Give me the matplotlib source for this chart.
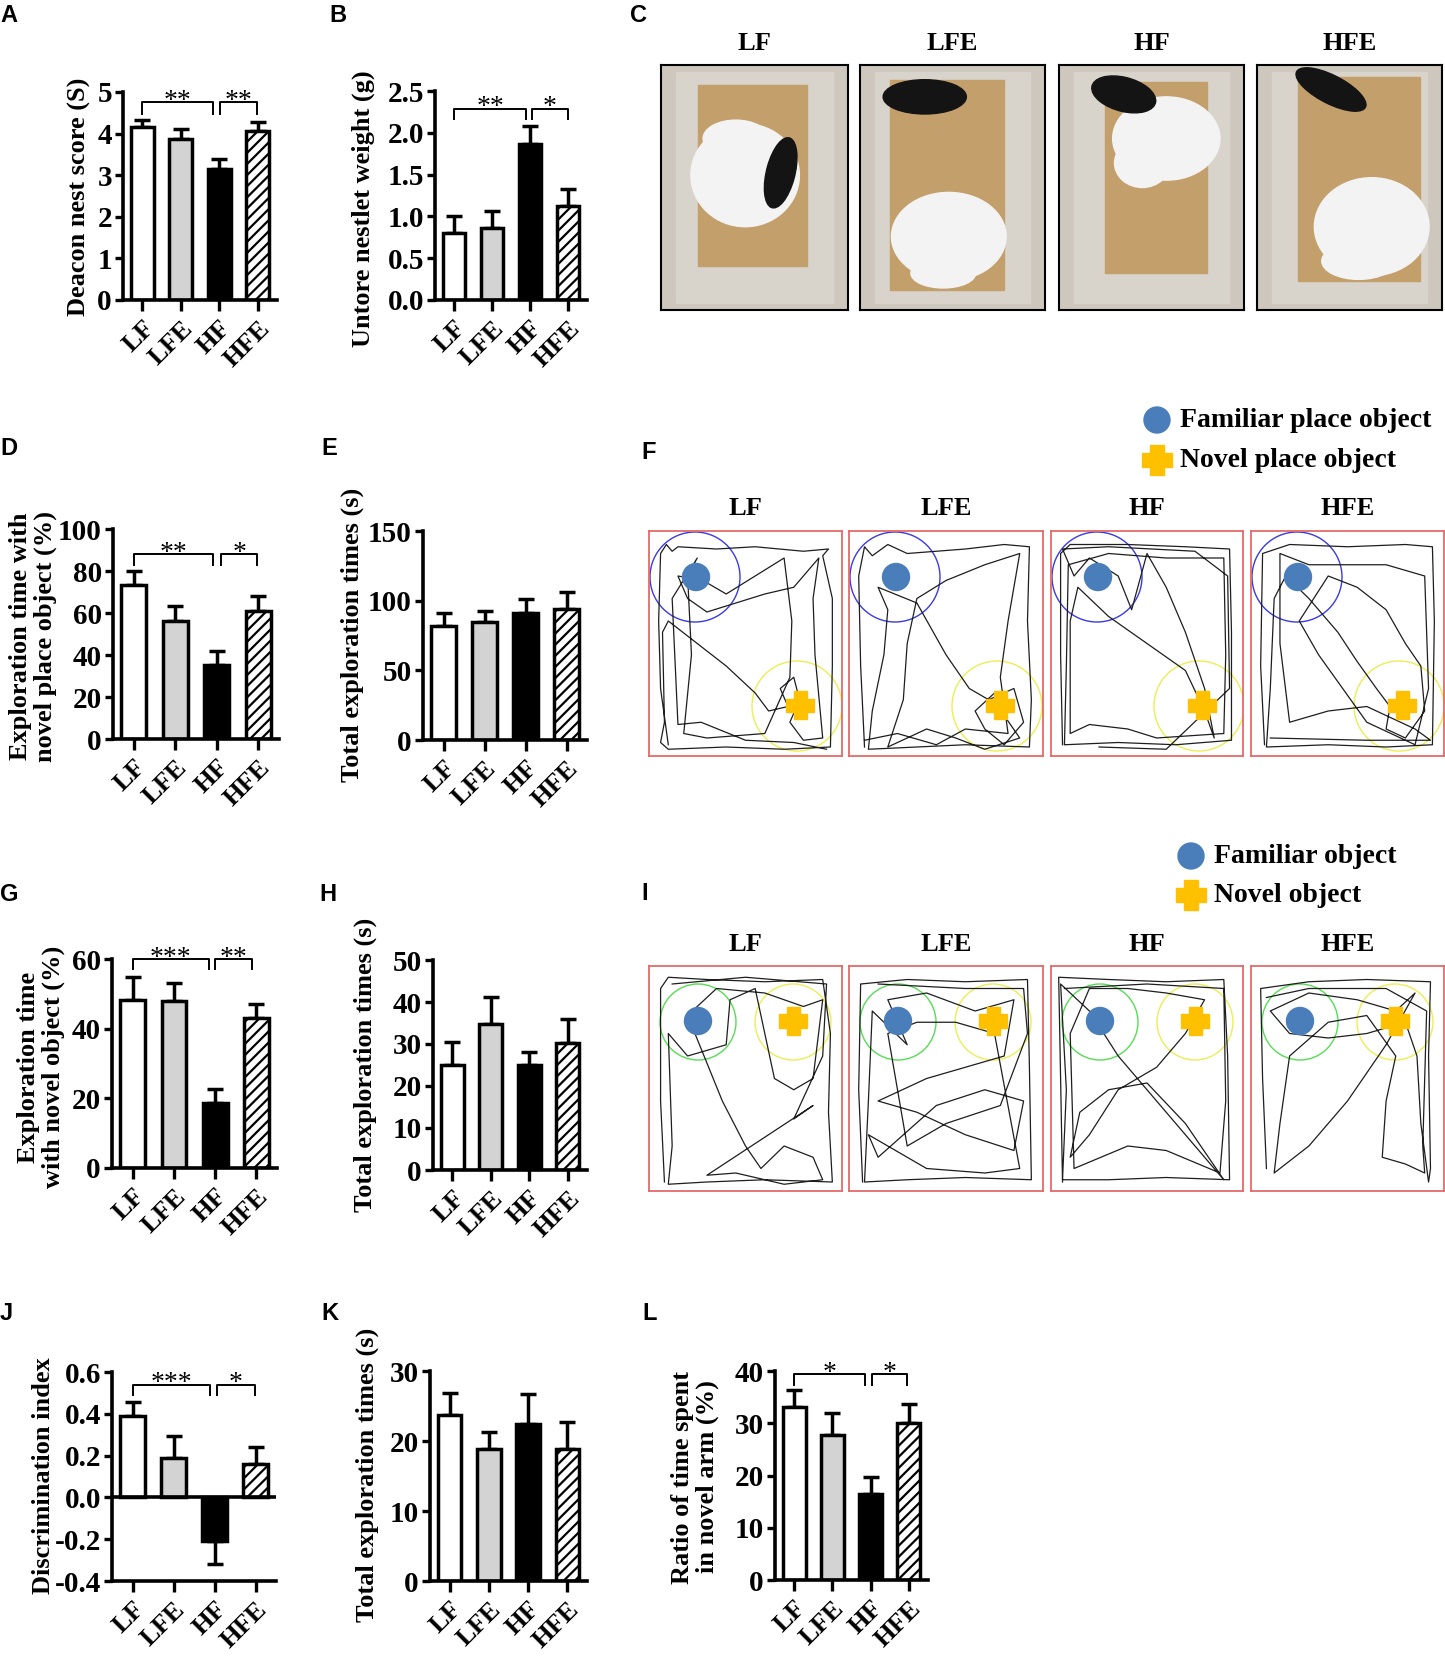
import matplotlib
matplotlib.use('Agg')
import matplotlib.pyplot as plt
from matplotlib.patches import Rectangle, Circle, Ellipse, Polygon
import numpy as np

W, H = 1445, 1660
fig = plt.figure(figsize=(W / 100, H / 100), dpi=100)
plt.rcParams['hatch.linewidth'] = 1.6
SERIF = 'Liberation Serif'
SANS = 'Liberation Sans'

# ------------------------------------------------------------------ data
groups = ['LF', 'LFE', 'HF', 'HFE']

nest_score = [4.15, 3.87, 3.15, 4.07]
nest_score_err = [0.17, 0.23, 0.25, 0.22]
untorn_weight = [0.80, 0.86, 1.87, 1.13]
untorn_weight_err = [0.20, 0.21, 0.21, 0.20]
opl_percent = [73.2, 56.2, 35.2, 61.0]
opl_percent_err = [7.0, 7.0, 6.5, 7.0]
opl_total = [82.0, 84.4, 91.0, 93.8]
opl_total_err = [9.4, 8.2, 10.0, 12.2]
nor_percent = [48.2, 48.0, 18.7, 43.0]
nor_percent_err = [6.5, 5.1, 4.0, 4.1]
nor_total = [25.1, 34.8, 25.0, 30.2]
nor_total_err = [5.3, 6.5, 3.2, 5.7]
disc_index = [0.39, 0.19, -0.21, 0.16]
disc_index_err = [0.067, 0.105, 0.11, 0.08]
disc_total = [23.7, 18.9, 22.5, 18.9]
disc_total_err = [3.2, 2.4, 4.2, 3.8]
ymaze_ratio = [33.1, 27.7, 16.4, 30.1]
ymaze_ratio_err = [3.2, 4.3, 3.3, 3.5]

ticks_A = [0, 1, 2, 3, 4, 5]
ticklabels_A = ['0', '1', '2', '3', '4', '5']
ticks_B = [0, 0.5, 1.0, 1.5, 2.0, 2.5]
ticklabels_B = ['0.0', '0.5', '1.0', '1.5', '2.0', '2.5']
ticks_D = [0, 20, 40, 60, 80, 100]
ticks_E = [0, 50, 100, 150]
ticks_G = [0, 20, 40, 60]
ticks_H = [0, 10, 20, 30, 40, 50]
ticks_J = [-0.4, -0.2, 0.0, 0.2, 0.4, 0.6]
ticklabels_J = ['-0.4', '-0.2', '0.0', '0.2', '0.4', '0.6']
ticks_K = [0, 10, 20, 30]
ticks_L = [0, 10, 20, 30, 40]

# significance brackets: (x_start, x_end, y_line, y_tip, label)
sig_A = [(0, 1.85, 4.76, 4.48, '**'), (2.02, 2.98, 4.76, 4.48, '**')]
sig_B = [(0, 1.9, 2.29, 2.16, '**'), (2.05, 3.0, 2.29, 2.16, '*')]
sig_D = [(0, 1.9, 88.0, 83.0, '**'), (2.1, 2.98, 88.0, 83.0, '*')]
sig_G = [(0, 1.85, 60.0, 57.0, '***'), (2.0, 2.9, 60.0, 57.0, '**')]
sig_J = [(0, 1.88, 0.54, 0.49, '***'), (2.06, 2.98, 0.54, 0.49, '*')]
sig_L = [(0, 1.86, 39.4, 37.3, '*'), (2.03, 2.96, 39.4, 37.3, '*')]

# arena tracks (fractions of arena width / height, from top-left)
track_F_LF = [(0.10, 0.95), (0.06, 0.70), (0.05, 0.40), (0.06, 0.10), (0.09, 0.06), (0.12, 0.09), (0.15, 0.07),
              (0.35, 0.08), (0.55, 0.07), (0.80, 0.09), (0.93, 0.08), (0.90, 0.11), (0.95, 0.30), (0.95, 0.60),
              (0.94, 0.96), (0.70, 0.97), (0.40, 0.96), (0.10, 0.97), (0.06, 0.94), (0.08, 0.85), (0.07, 0.45),
              (0.10, 0.40), (0.25, 0.50), (0.40, 0.60), (0.55, 0.72), (0.62, 0.80), (0.72, 0.78), (0.68, 0.70),
              (0.75, 0.65), (0.78, 0.75), (0.73, 0.85), (0.80, 0.93), (0.90, 0.92), (0.86, 0.55), (0.85, 0.30),
              (0.88, 0.12), (0.75, 0.25), (0.60, 0.28), (0.45, 0.32), (0.30, 0.36), (0.20, 0.30), (0.15, 0.20),
              (0.28, 0.22), (0.40, 0.28), (0.55, 0.20), (0.70, 0.12), (0.74, 0.40), (0.73, 0.65), (0.60, 0.90),
              (0.30, 0.92), (0.18, 0.90), (0.22, 0.55), (0.20, 0.20), (0.25, 0.12), (0.12, 0.30), (0.15, 0.86),
              (0.27, 0.85), (0.50, 0.93), (0.75, 0.94), (0.92, 0.97)]
track_F_LFE = [(0.08, 0.96), (0.06, 0.60), (0.05, 0.20), (0.08, 0.07), (0.12, 0.11), (0.20, 0.06), (0.30, 0.10),
               (0.45, 0.09), (0.60, 0.08), (0.80, 0.06), (0.93, 0.07), (0.92, 0.40), (0.94, 0.75), (0.93, 0.96),
               (0.60, 0.95), (0.35, 0.96), (0.10, 0.97), (0.12, 0.80), (0.18, 0.55), (0.20, 0.35), (0.15, 0.25),
               (0.35, 0.32), (0.50, 0.55), (0.62, 0.70), (0.72, 0.75), (0.85, 0.70), (0.90, 0.85), (0.80, 0.95),
               (0.70, 0.88), (0.65, 0.80), (0.75, 0.72), (0.80, 0.82), (0.88, 0.92), (0.70, 0.97), (0.55, 0.92),
               (0.40, 0.88), (0.30, 0.92), (0.20, 0.96), (0.28, 0.75), (0.30, 0.50), (0.35, 0.30), (0.50, 0.22),
               (0.70, 0.15), (0.88, 0.10), (0.82, 0.40), (0.78, 0.65), (0.82, 0.90), (0.60, 0.88), (0.45, 0.95),
               (0.25, 0.90), (0.08, 0.93)]
track_F_HF = [(0.06, 0.95), (0.05, 0.55), (0.05, 0.10), (0.10, 0.06), (0.40, 0.06), (0.70, 0.07), (0.93, 0.08),
              (0.94, 0.45), (0.94, 0.93), (0.65, 0.95), (0.35, 0.94), (0.07, 0.95), (0.08, 0.60), (0.09, 0.15),
              (0.30, 0.10), (0.60, 0.12), (0.90, 0.12), (0.91, 0.55), (0.90, 0.90), (0.55, 0.92), (0.40, 0.88),
              (0.20, 0.86), (0.10, 0.90), (0.10, 0.40), (0.14, 0.25), (0.30, 0.38), (0.50, 0.50), (0.70, 0.62),
              (0.80, 0.80), (0.85, 0.92), (0.80, 0.70), (0.70, 0.45), (0.60, 0.25), (0.50, 0.10), (0.42, 0.35),
              (0.35, 0.20), (0.20, 0.12), (0.12, 0.20), (0.06, 0.08), (0.30, 0.07), (0.75, 0.09), (0.92, 0.20),
              (0.93, 0.70), (0.60, 0.97), (0.25, 0.96)]
track_F_HFE = [(0.07, 0.95), (0.05, 0.60), (0.06, 0.10), (0.20, 0.06), (0.50, 0.07), (0.80, 0.06), (0.94, 0.07),
               (0.95, 0.40), (0.94, 0.95), (0.70, 0.96), (0.40, 0.95), (0.08, 0.96), (0.10, 0.70), (0.12, 0.30),
               (0.18, 0.20), (0.30, 0.30), (0.45, 0.45), (0.55, 0.58), (0.65, 0.70), (0.72, 0.78), (0.70, 0.88),
               (0.80, 0.92), (0.90, 0.80), (0.88, 0.60), (0.80, 0.50), (0.70, 0.35), (0.55, 0.25), (0.40, 0.20),
               (0.25, 0.40), (0.35, 0.55), (0.60, 0.85), (0.85, 0.95), (0.92, 0.70), (0.90, 0.20), (0.70, 0.15),
               (0.30, 0.15), (0.15, 0.10), (0.15, 0.50), (0.20, 0.85), (0.40, 0.80), (0.60, 0.78), (0.85, 0.88),
               (0.93, 0.93), (0.60, 0.93), (0.10, 0.92)]
track_I_LF = [(0.08, 0.96), (0.06, 0.60), (0.06, 0.10), (0.10, 0.05), (0.30, 0.06), (0.60, 0.07), (0.90, 0.06),
              (0.94, 0.30), (0.93, 0.65), (0.95, 0.96), (0.60, 0.95), (0.30, 0.96), (0.10, 0.97), (0.12, 0.80),
              (0.10, 0.30), (0.20, 0.40), (0.40, 0.35), (0.42, 0.15), (0.55, 0.10), (0.60, 0.30), (0.65, 0.50),
              (0.75, 0.55), (0.85, 0.50), (0.90, 0.15), (0.80, 0.18), (0.60, 0.12), (0.35, 0.10), (0.20, 0.22),
              (0.38, 0.60), (0.50, 0.80), (0.58, 0.90), (0.70, 0.80), (0.85, 0.85), (0.90, 0.95), (0.70, 0.97),
              (0.45, 0.92), (0.30, 0.93), (0.85, 0.62), (0.75, 0.68), (0.90, 0.40), (0.92, 0.08), (0.50, 0.05),
              (0.12, 0.08)]
track_I_LFE = [(0.07, 0.96), (0.05, 0.55), (0.06, 0.08), (0.30, 0.06), (0.60, 0.07), (0.92, 0.06), (0.93, 0.45),
               (0.94, 0.95), (0.60, 0.94), (0.30, 0.95), (0.08, 0.96), (0.10, 0.60), (0.12, 0.20), (0.30, 0.35),
               (0.20, 0.15), (0.40, 0.12), (0.65, 0.20), (0.85, 0.15), (0.80, 0.40), (0.60, 0.45), (0.40, 0.50),
               (0.15, 0.60), (0.35, 0.65), (0.60, 0.75), (0.85, 0.82), (0.90, 0.60), (0.70, 0.55), (0.45, 0.62),
               (0.15, 0.85), (0.10, 0.75), (0.40, 0.90), (0.70, 0.92), (0.88, 0.90), (0.75, 0.30), (0.55, 0.25),
               (0.35, 0.25), (0.20, 0.30), (0.30, 0.80), (0.50, 0.70), (0.78, 0.62), (0.92, 0.30), (0.90, 0.10),
               (0.60, 0.10), (0.15, 0.08)]
track_I_HF = [(0.06, 0.96), (0.05, 0.50), (0.04, 0.05), (0.30, 0.06), (0.60, 0.07), (0.90, 0.06), (0.92, 0.40),
              (0.93, 0.95), (0.60, 0.94), (0.30, 0.95), (0.06, 0.95), (0.08, 0.55), (0.05, 0.08), (0.20, 0.20),
              (0.35, 0.40), (0.45, 0.50), (0.55, 0.60), (0.75, 0.80), (0.90, 0.95), (0.70, 0.70), (0.50, 0.52),
              (0.30, 0.55), (0.15, 0.65), (0.10, 0.85), (0.20, 0.75), (0.35, 0.55), (0.55, 0.45), (0.70, 0.30),
              (0.80, 0.15), (0.60, 0.12), (0.40, 0.10), (0.20, 0.10), (0.10, 0.30), (0.12, 0.90), (0.40, 0.80),
              (0.60, 0.82), (0.88, 0.92), (0.91, 0.60), (0.90, 0.10), (0.50, 0.08), (0.07, 0.10)]
track_I_HFE = [(0.08, 0.90), (0.06, 0.50), (0.05, 0.10), (0.30, 0.07), (0.60, 0.06), (0.93, 0.07), (0.92, 0.40),
               (0.93, 0.90), (0.92, 0.96), (0.88, 0.70), (0.86, 0.40), (0.80, 0.25), (0.60, 0.30), (0.40, 0.32),
               (0.20, 0.30), (0.10, 0.20), (0.30, 0.12), (0.55, 0.15), (0.75, 0.20), (0.85, 0.12), (0.70, 0.35),
               (0.50, 0.60), (0.30, 0.80), (0.12, 0.92), (0.15, 0.70), (0.20, 0.40), (0.40, 0.25), (0.60, 0.22),
               (0.75, 0.40), (0.70, 0.60), (0.68, 0.85), (0.80, 0.88), (0.90, 0.92), (0.89, 0.80), (0.91, 0.20),
               (0.70, 0.10), (0.30, 0.10), (0.08, 0.14)]
tracks_F = [track_F_LF, track_F_LFE, track_F_HF, track_F_HFE]
tracks_I = [track_I_LF, track_I_LFE, track_I_HF, track_I_HFE]

# ------------------------------------------------------------------ helpers
bar_colors = ['white', '#d3d3d3', 'black', 'white']
bar_hatches = ['', '', '', '///']


def px_axes(x0, y0, x1, y1, **kw):
    return fig.add_axes([x0 / W, 1 - y1 / H, (x1 - x0) / W, (y1 - y0) / H], **kw)


ov = fig.add_axes([0, 0, 1, 1], zorder=10)
ov.set_xlim(0, W)
ov.set_ylim(H, 0)
ov.axis('off')
ov.patch.set_alpha(0)


def letter(ch, x, y):
    ov.text(x, y, ch, fontsize=17, fontweight='bold', family=SANS, ha='left', va='center')


def vlabel(text, x, y):
    ov.text(x, y, text, fontsize=19, fontweight='bold', family=SERIF, rotation=90,
            ha='center', va='center', linespacing=1.05)


def bar_panel(box, vals, errs, ticks, ticklabels=None, sigs=(), zero_line=False):
    ax = px_axes(*box)
    x = np.arange(len(groups))
    lower = [e if v < 0 else 0 for v, e in zip(vals, errs)]
    upper = [0 if v < 0 else e for v, e in zip(vals, errs)]
    ax.errorbar(x, vals, yerr=[lower, upper], fmt='none', ecolor='black', elinewidth=2.5,
                capsize=5.5, capthick=2.5, zorder=1)
    bars = ax.bar(x, vals, width=0.6, color=bar_colors, edgecolor='black', linewidth=2.5, zorder=2)
    for b, h in zip(bars, bar_hatches):
        b.set_hatch(h)
    ax.set_xlim(-0.5, 3.5)
    ax.set_ylim(ticks[0], ticks[-1])
    ax.set_yticks(ticks)
    if ticklabels is None:
        ticklabels = [str(t) for t in ticks]
    ax.set_yticklabels(ticklabels, fontsize=21, fontweight='bold', family=SERIF)
    ax.set_xticks(x)
    ax.set_xticklabels(groups, fontsize=19, fontweight='bold', family=SERIF, rotation=45,
                       ha='right', rotation_mode='anchor')
    for s in ['top', 'right']:
        ax.spines[s].set_visible(False)
    for s in ['left', 'bottom']:
        ax.spines[s].set_linewidth(2.6)
    ax.tick_params(axis='y', length=6, width=2.4, pad=2)
    ax.tick_params(axis='x', length=8, width=2.4, pad=4)
    ax.patch.set_alpha(0)
    if zero_line:
        ax.axhline(0, color='black', lw=2.6, zorder=3)
    for (xa, xb, yl, yt, lab) in sigs:
        ax.plot([xa, xa, xb, xb], [yt, yl, yl, yt], color='black', lw=1.4, clip_on=False, zorder=4)
        ax.annotate(lab, ((xa + xb) / 2, yl), xytext=(0, -4), textcoords='offset points',
                    ha='center', va='baseline', fontsize=20, family=SERIF, annotation_clip=False)
    return ax


def cross_pts(cx, cy, half, arm):
    return [(cx - arm, cy - half), (cx + arm, cy - half), (cx + arm, cy - arm), (cx + half, cy - arm),
            (cx + half, cy + arm), (cx + arm, cy + arm), (cx + arm, cy + half), (cx - arm, cy + half),
            (cx - arm, cy + arm), (cx - half, cy + arm), (cx - half, cy - arm), (cx - arm, cy - arm)]


def arena(box, track, dot, cross, rings):
    x0, y0, x1, y1 = box
    ax = px_axes(x0, y0, x1, y1)
    bw, bh = x1 - x0, y1 - y0
    ax.set_xlim(0, bw)
    ax.set_ylim(bh, 0)
    ax.set_xticks([])
    ax.set_yticks([])
    for s in ax.spines.values():
        s.set_color('#e46a6a')
        s.set_linewidth(1.3)
    ax.plot([p[0] * bw for p in track], [p[1] * bh for p in track], color='#1e1e1e', lw=0.9, zorder=2)
    for (cx, cy, r, col) in rings:
        ax.add_patch(Circle((cx, cy), r, fill=False, ec=col, lw=1.0, zorder=1))
    ax.add_patch(Circle(dot, 13.5, color='#4a7ebb', zorder=3))
    ax.add_patch(Polygon(cross_pts(cross[0], cross[1], 14, 6.5), closed=True, color='#ffc000', zorder=3))


# ------------------------------------------------------------------ panel A, B
letter('A', 0, 15)
bar_panel((123, 92, 277, 300), nest_score, nest_score_err, ticks_A, ticklabels_A, sig_A)
vlabel('Deacon nest score (S)', 79, 197)

letter('B', 329, 15)
bar_panel((435, 91, 587, 300), untorn_weight, untorn_weight_err, ticks_B, ticklabels_B, sig_B)
vlabel('Untore nestlet weight (g)', 363, 209)

# ------------------------------------------------------------------ panel C (photos, drawn schematically)
letter('C', 630, 15)
photo_boxes = [(661, 65, 848, 310), (860, 65, 1045, 310), (1059, 65, 1244, 310), (1257, 65, 1442, 310)]
bedding = [(0.20, 0.08, 0.78, 0.82), (0.16, 0.06, 0.78, 0.92), (0.25, 0.07, 0.80, 0.85), (0.22, 0.05, 0.88, 0.88)]
nest_blobs = [[(0.45, 0.45, 0.58, 0.42), (0.40, 0.30, 0.35, 0.15)],
              [(0.48, 0.70, 0.62, 0.36), (0.45, 0.85, 0.35, 0.12)],
              [(0.58, 0.30, 0.58, 0.34), (0.45, 0.40, 0.30, 0.20)],
              [(0.62, 0.66, 0.62, 0.40), (0.55, 0.80, 0.40, 0.15)]]
mice = [(0.64, 0.44, 0.30, 0.15, -70), (0.35, 0.13, 0.45, 0.14, 0), (0.35, 0.12, 0.35, 0.14, 10),
        (0.40, 0.10, 0.40, 0.12, 20)]
for i, (bx, g) in enumerate(zip(photo_boxes, groups)):
    ax = px_axes(*bx)
    ax.set_xlim(0, 1)
    ax.set_ylim(1, 0)
    ax.set_xticks([])
    ax.set_yticks([])
    ax.add_patch(Rectangle((0, 0), 1, 1, color='#cdc7bd'))
    ax.add_patch(Rectangle((0.08, 0.03), 0.84, 0.94, color='#d9d4cb'))
    u0, v0, u1, v1 = bedding[i]
    ax.add_patch(Rectangle((u0, v0), u1 - u0, v1 - v0, color='#c39f6c'))
    for (cx, cy, ew, eh) in nest_blobs[i]:
        ax.add_patch(Ellipse((cx, cy), ew, eh, color='#f3f3f3'))
    mx, my, mw, mh, ang = mice[i]
    ax.add_patch(Ellipse((mx, my), mw, mh, angle=ang, color='#141414'))
    for s in ax.spines.values():
        s.set_linewidth(1.5)
    ov.text((bx[0] + bx[2]) / 2, 43, g, fontsize=19, fontweight='bold', family=SERIF, ha='center', va='center')

# ------------------------------------------------------------------ panel D, E
letter('D', 0, 448)
bar_panel((113, 529, 279, 739), opl_percent, opl_percent_err, ticks_D, None, sig_D)
vlabel('Exploration time with\nnovel place object (%)', 33, 636)

letter('E', 321, 448)
bar_panel((423, 531, 587, 740), opl_total, opl_total_err, ticks_E)
vlabel('Total exploration times (s)', 352, 635)

# ------------------------------------------------------------------ panel F
letter('F', 641, 452)
ov.add_patch(Circle((1157, 420), 13, color='#4a7ebb'))
ov.add_patch(Polygon(cross_pts(1157, 460, 15, 7), closed=True, color='#ffc000'))
ov.text(1180, 420, 'Familiar place object', fontsize=20, fontweight='bold', family=SERIF, ha='left', va='center')
ov.text(1180, 460, 'Novel place object', fontsize=20, fontweight='bold', family=SERIF, ha='left', va='center')
arena_x = [(649, 842), (849, 1043), (1051, 1243), (1251, 1444)]
for (xa, xb), g, tr in zip(arena_x, groups, tracks_F):
    ov.text((xa + xb) / 2, 508, g, fontsize=19, fontweight='bold', family=SERIF, ha='center', va='center')
    arena((xa, 531, xb, 756), tr, (47, 46), (151, 174),
          [(46, 46, 45, '#3a3ae0'), (148, 175, 45, '#eded55')])

# ------------------------------------------------------------------ panel G, H
letter('G', 0, 894)
bar_panel((112, 959, 277, 1168), nor_percent, nor_percent_err, ticks_G, None, sig_G)
vlabel('Exploration time\nwith novel object (%)', 41, 1067)

letter('H', 319, 894)
bar_panel((433, 960, 587, 1170), nor_total, nor_total_err, ticks_H)
vlabel('Total exploration times (s)', 365, 1065)

# ------------------------------------------------------------------ panel I
letter('I', 641, 893)
ov.add_patch(Circle((1191, 856), 13, color='#4a7ebb'))
ov.add_patch(Polygon(cross_pts(1191, 895, 15, 7), closed=True, color='#ffc000'))
ov.text(1214, 856, 'Familiar object', fontsize=20, fontweight='bold', family=SERIF, ha='left', va='center')
ov.text(1214, 895, 'Novel object', fontsize=20, fontweight='bold', family=SERIF, ha='left', va='center')
for (xa, xb), g, tr in zip(arena_x, groups, tracks_I):
    ov.text((xa + xb) / 2, 944, g, fontsize=19, fontweight='bold', family=SERIF, ha='center', va='center')
    arena((xa, 966, xb, 1191), tr, (49, 55), (144, 55),
          [(49, 56, 38, '#55dd55'), (144, 56, 38, '#eded55')])

# ------------------------------------------------------------------ panel J, K, L
letter('J', 0, 1313)
bar_panel((112, 1372, 276, 1581), disc_index, disc_index_err, ticks_J, ticklabels_J, sig_J, zero_line=True)
vlabel('Discrimination index', 44, 1476)

letter('K', 321, 1313)
bar_panel((430, 1371, 587, 1581), disc_total, disc_total_err, ticks_K)
vlabel('Total exploration times (s)', 367, 1475)

letter('L', 642, 1313)
bar_panel((775, 1371, 928, 1580), ymaze_ratio, ymaze_ratio_err, ticks_L, None, sig_L)
vlabel('Ratio of time spent\nin novel arm (%)', 695, 1477)

fig.savefig('out.png', dpi=100, facecolor='white')
